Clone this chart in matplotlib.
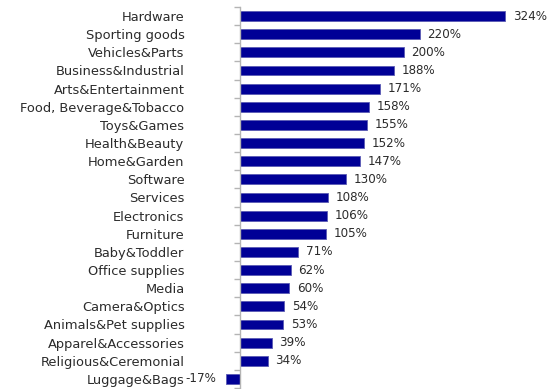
import matplotlib.pyplot as plt
import numpy as np

categories = [
    "Hardware", "Sporting goods", "Vehicles&Parts", "Business&Industrial",
    "Arts&Entertainment", "Food, Beverage&Tobacco", "Toys&Games",
    "Health&Beauty", "Home&Garden", "Software", "Services", "Electronics",
    "Furniture", "Baby&Toddler", "Office supplies", "Media",
    "Camera&Optics", "Animals&Pet supplies", "Apparel&Accessories",
    "Religious&Ceremonial", "Luggage&Bags",
]
growth = [324, 220, 200, 188, 171, 158, 155, 152, 147, 130, 108, 106,
          105, 71, 62, 60, 54, 53, 39, 34, -17]

BAR = "#000096"
EDGE = "#5a5ab4"
TEXT = "#2b2b2b"
AXIS = "#b4b4b4"

fig = plt.figure(figsize=(5.56, 3.89), dpi=100)
ax = fig.add_axes([0.4022, 0.0026, 0.5885, 0.9794])

y = np.arange(len(categories))
ax.barh(y, growth, height=0.55, color=BAR, edgecolor=EDGE, linewidth=0.6)

ax.set_xlim(-20, 380)
ax.set_ylim(len(categories) - 0.5, -0.5)

for s in ("top", "right", "bottom"):
    ax.spines[s].set_visible(False)
ax.spines["left"].set_position(("data", 0))
ax.spines["left"].set_color(AXIS)
ax.spines["left"].set_linewidth(1.0)
ax.set_xticks([])

# category names sit well left of the zero line; ticks mark row boundaries
ax.set_yticks(y)
ax.set_yticklabels(categories, fontsize=9.4, color=TEXT)
ax.tick_params(axis="y", which="major", length=0, pad=40)
ax.set_yticks(np.arange(len(categories) + 1) - 0.5, minor=True)
ax.tick_params(axis="y", which="minor", length=4, color=AXIS, width=1.0)

for yi, v in zip(y, growth):
    if v >= 0:
        ax.annotate(f"{v}%", (v, yi), xytext=(5.5, 0), textcoords="offset points",
                    ha="left", va="center", fontsize=8.6, color=TEXT)
    else:
        ax.annotate(f"{v}%", (v, yi), xytext=(-7, 0), textcoords="offset points",
                    ha="right", va="center", fontsize=8.6, color=TEXT)

fig.savefig("out.png", dpi=100)
